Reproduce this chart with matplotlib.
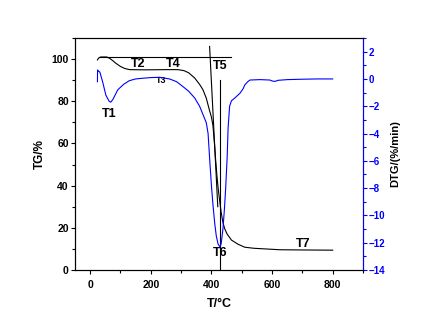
import matplotlib
matplotlib.use("Agg")
import matplotlib.pyplot as plt
from matplotlib.ticker import MultipleLocator

plt.rcParams['font.family'] = ['Liberation Sans', 'DejaVu Sans']
plt.rcParams['font.weight'] = 'bold'

# TG curve (temperature in C, mass %)
tg_temp = [24, 28, 35, 55, 65, 75, 85, 100, 115, 130, 180, 250, 290, 310, 325,
           345, 361, 372, 383, 394, 400, 405, 410, 414, 418, 422, 427, 432, 438,
           444, 452, 466, 488, 510, 540, 577, 626, 700, 800]
tg_mass = [99.6, 100.5, 101.0, 101.0, 100.3, 99.2, 98.0, 96.5, 95.5, 95.0, 94.9,
           95.0, 95.0, 94.5, 93.5, 91.0, 88.0, 85.5, 81.5, 75.5, 72.5, 68.5, 60.0,
           52.0, 45.0, 39.0, 33.0, 27.5, 22.5, 19.5, 17.0, 14.2, 12.2, 10.8, 10.3,
           10.0, 9.6, 9.5, 9.4]

# DTG curve (temperature in C, %/min)
dtg_temp = [24, 24.5, 26, 32, 41, 52, 63, 68, 75, 91, 110, 129, 150, 173, 200,
            229, 262, 285, 306, 325, 345, 361, 372, 383, 389, 394, 400, 405, 411,
            416, 422, 428, 432, 438, 443, 447, 452, 455, 460, 466, 477, 494, 505,
            510, 520, 527, 560, 593, 600, 610, 620, 650, 700, 750, 800]
dtg_rate = [-0.2, 0.66, 0.6, 0.5, -0.2, -1.2, -1.65, -1.7, -1.5, -0.8, -0.4,
            -0.13, 0.0, 0.05, 0.1, 0.12, 0.0, -0.2, -0.56, -0.9, -1.4, -2.0, -2.6,
            -3.2, -4.0, -5.8, -7.8, -9.2, -10.6, -11.5, -12.1, -12.3, -12.1, -11.0,
            -9.5, -8.0, -5.7, -3.6, -2.0, -1.6, -1.4, -1.05, -0.7, -0.44, -0.2,
            -0.08, -0.05, -0.08, -0.15, -0.18, -0.1, -0.05, -0.02, 0.0, 0.0]

# construction lines
base_line_t = [30, 466]
base_line_y = [101, 101]
tangent_t = [394, 421]
tangent_y = [106, 30]
peak_t = [428, 428]
peak_y = [0, 90]

labels = ['T1', 'T2', 'T3', 'T4', 'T5', 'T6', 'T7']
label_t = [63, 157, 234, 273, 428, 428, 704]
label_y = [74, 97.8, 89.8, 97.8, 96.8, 7.9, 12.3]
label_size = [9, 9, 6.5, 9, 9, 9, 9]

blue = '#0000ff'

fig = plt.figure(figsize=(4.23, 3.27), dpi=100)
ax = fig.add_axes([75 / 423, 1 - 270 / 327, 288 / 423, 232 / 327])
ax2 = ax.twinx()

ax.plot(tg_temp, tg_mass, color='black', lw=0.8)
ax.plot(base_line_t, base_line_y, color='black', lw=0.8)
ax.plot(tangent_t, tangent_y, color='black', lw=0.8)
ax.plot(peak_t, peak_y, color='black', lw=0.8)
ax2.plot(dtg_temp, dtg_rate, color=blue, lw=0.8)

for s, t, y, fs in zip(labels, label_t, label_y, label_size):
    ax.text(t, y, s, ha='center', va='center', fontsize=fs, fontweight='bold')

ax.set_xlim(-50, 900)
ax.set_ylim(0, 110)
ax2.set_ylim(-14, 3)

ax.xaxis.set_major_locator(MultipleLocator(200))
ax.xaxis.set_minor_locator(MultipleLocator(100))
ax.yaxis.set_major_locator(MultipleLocator(20))
ax.yaxis.set_minor_locator(MultipleLocator(10))
ax2.yaxis.set_major_locator(MultipleLocator(2))
ax2.yaxis.set_minor_locator(MultipleLocator(1))

ax.tick_params(axis='both', which='major', length=3, width=0.8, labelsize=7.5, pad=1.5)
ax.tick_params(axis='both', which='minor', length=2, width=0.8)
ax.tick_params(axis='x', which='major', pad=4)
ax2.tick_params(axis='y', which='major', length=3, width=0.8, labelsize=7,
                pad=1, colors=blue)
ax2.tick_params(axis='y', which='minor', length=2, width=0.8, colors=blue)

for lab in ax.get_xticklabels() + ax.get_yticklabels() + ax2.get_yticklabels():
    lab.set_fontweight('bold')

for sp in ax.spines.values():
    sp.set_linewidth(0.8)
for sp in ax2.spines.values():
    sp.set_linewidth(0.8)
ax2.spines['right'].set_color(blue)

ax.set_xlabel('T/°C', fontsize=9, fontweight='bold', labelpad=6)
ax.set_ylabel('TG/%', fontsize=8.5, fontweight='bold', labelpad=4)
ax2.set_ylabel('DTG/(%/min)', fontsize=8, fontweight='bold', labelpad=4)

fig.savefig('out.png', dpi=100)
